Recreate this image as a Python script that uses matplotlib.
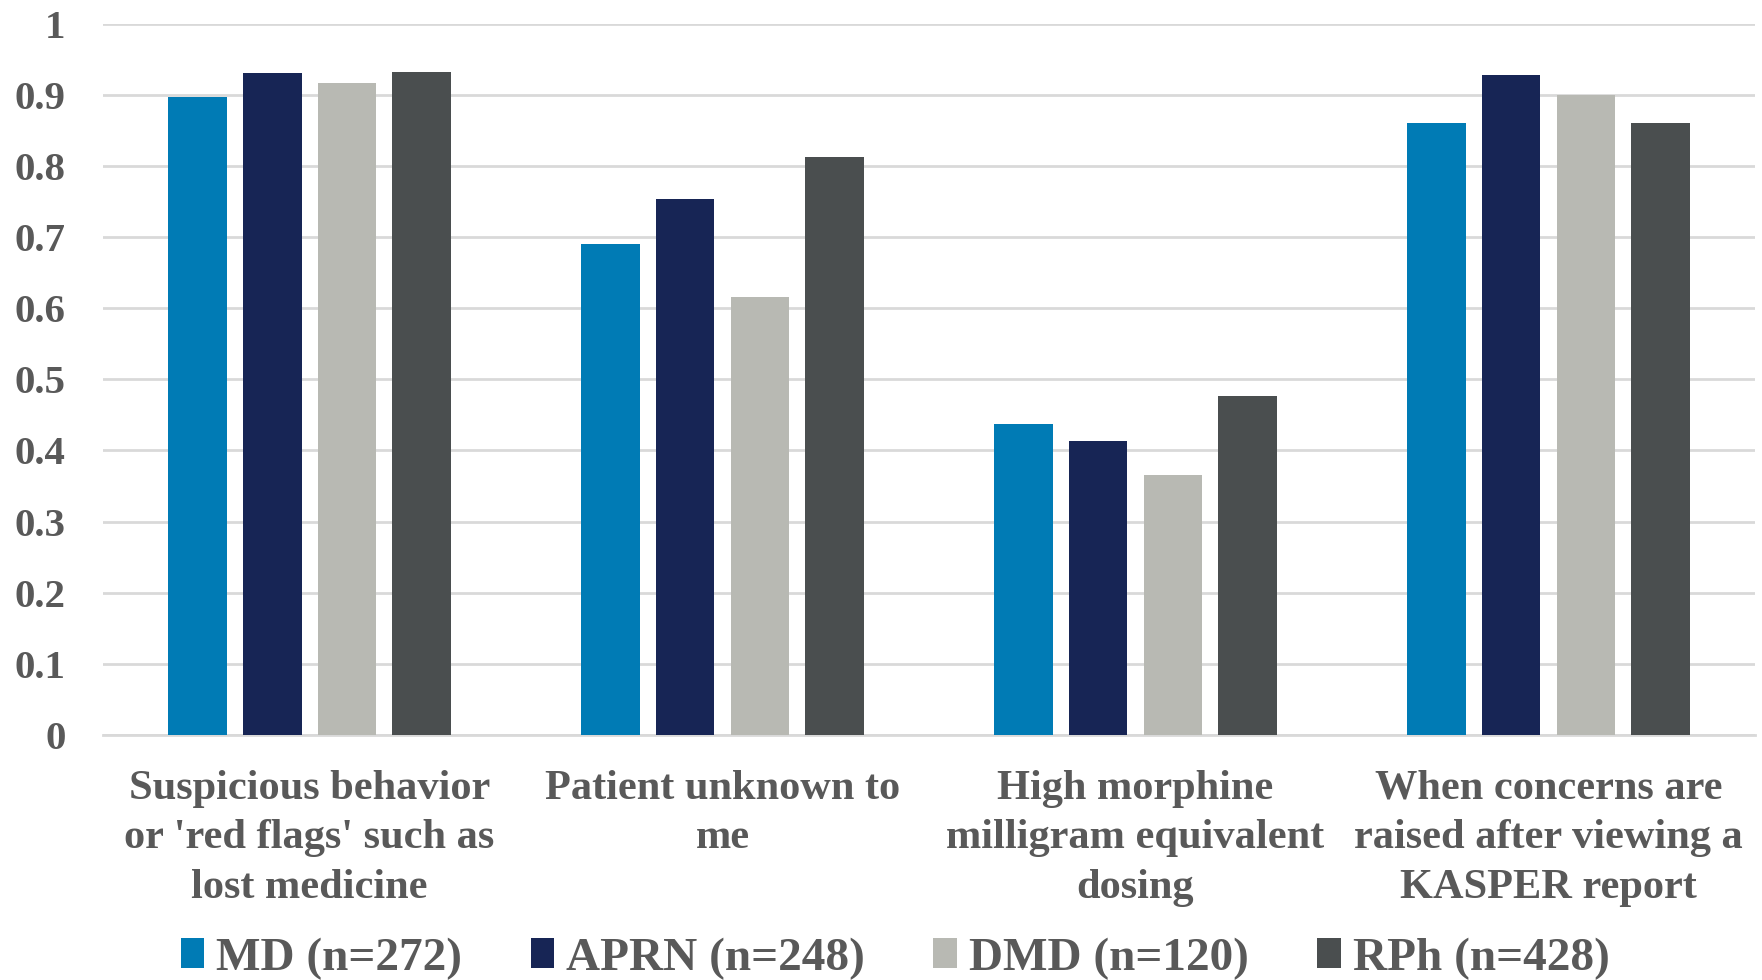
import matplotlib.pyplot as plt
import numpy as np

# categories and series
categories = [
    "Suspicious behavior\nor 'red flags' such as\nlost medicine",
    "Patient unknown to\nme",
    "High morphine\nmilligram equivalent\ndosing",
    "When concerns are\nraised after viewing a\nKASPER report",
]
series_names = ["MD (n=272)", "APRN (n=248)", "DMD (n=120)", "RPh (n=428)"]
md = [0.897, 0.690, 0.437, 0.860]
aprn = [0.931, 0.753, 0.413, 0.927]
dmd = [0.917, 0.616, 0.365, 0.899]
rph = [0.932, 0.812, 0.477, 0.860]
yticks = [0, 0.1, 0.2, 0.3, 0.4, 0.5, 0.6, 0.7, 0.8, 0.9, 1]
ytick_labels = ["0", "0.1", "0.2", "0.3", "0.4", "0.5", "0.6", "0.7", "0.8", "0.9", "1"]

colors = ["#007bb5", "#172555", "#b8b9b3", "#4a4e4f"]
text_color = "#595959"

plt.rcParams["font.family"] = ["Liberation Serif", "DejaVu Serif"]
plt.rcParams["font.weight"] = "bold"

fig = plt.figure(figsize=(17.62, 9.8), dpi=100)
ax = fig.add_axes([0.0585, 0.25, 0.9375, 0.726])

x = np.arange(len(categories))
width = 0.142
step = 0.181
all_series = [md, aprn, dmd, rph]
for i, vals in enumerate(all_series):
    ax.bar(x + (i - 1.5) * step, vals, width, color=colors[i],
           label=series_names[i], zorder=3)

ax.set_xlim(-0.5, len(categories) - 0.5)
ax.set_ylim(0, 1)
ax.set_yticks(yticks)
ax.set_yticklabels(ytick_labels)
ax.yaxis.grid(True, color="#d9d9d9", linewidth=2, zorder=0)
ax.set_axisbelow(True)
for s in ["top", "right", "left"]:
    ax.spines[s].set_visible(False)
ax.spines["bottom"].set_color("#d9d9d9")
ax.spines["bottom"].set_linewidth(2)
ax.tick_params(axis="y", length=0, pad=27, labelsize=29.5, labelcolor=text_color)
ax.set_xticks(x)
ax.set_xticklabels(categories, fontsize=30.5, color=text_color, linespacing=1.4)
ax.tick_params(axis="x", length=0, pad=25)

fig.legend(loc="lower center", bbox_to_anchor=(0.508, 0.0), ncol=4,
           frameon=False, fontsize=34, labelcolor=text_color,
           handlelength=0.5, handleheight=0.6, handletextpad=0.25,
           columnspacing=1.45, borderpad=0.0, borderaxespad=0.0)

plt.savefig("out.png", dpi=100)
